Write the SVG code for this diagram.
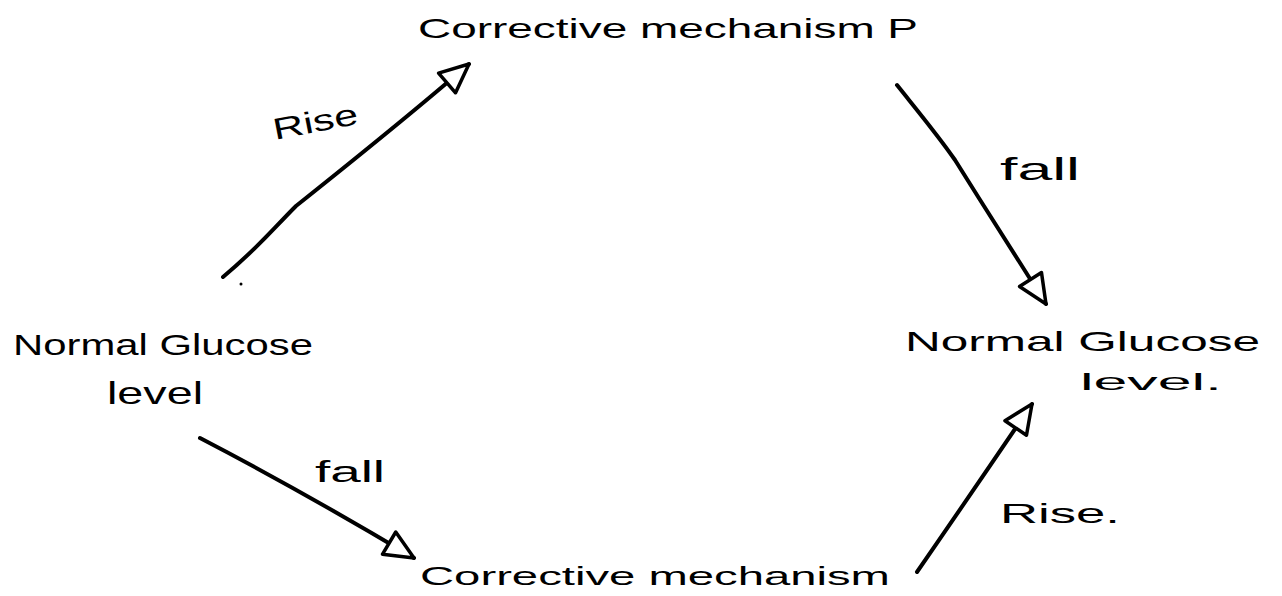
<svg xmlns="http://www.w3.org/2000/svg" width="1282" height="596" viewBox="0 0 1282 596">
  <style>
    .t { font-family: "Liberation Sans", Arial, sans-serif; fill: #000; }
    .conn { fill: none; stroke: #000; stroke-width: 4; stroke-linecap: round; stroke-linejoin: round; marker-end: url(#head); }
  </style>
  <defs>
    <marker id="head" markerUnits="userSpaceOnUse" markerWidth="38" markerHeight="34" viewBox="0 0 38 34" refX="33" refY="17" orient="auto">
      <path d="M4,4 L33,17 L4,30 Z" fill="#fff" stroke="#000" stroke-width="3.5" stroke-linejoin="round"/>
    </marker>
  </defs>
  <rect width="1282" height="596" fill="#fff"/>

  <g id="connectors">
    <path id="c1" class="conn" d="M223,277 C260,246 272,230 296,206 C350,163 410,115 469,64"/>
    <path id="c2" class="conn" d="M897,85 C925,120 940,138 955,160 C985,208 1015,255 1046,304"/>
    <path id="c3" class="conn" d="M200,438 Q300,490 414,558"/>
    <path id="c4" class="conn" d="M917,572 Q975,488 1032,404"/>
  </g>

  <g id="label-rise-top">
    <text class="t" x="275" y="140" font-size="30" textLength="86" lengthAdjust="spacingAndGlyphs" transform="rotate(-11 275 140)">Rise</text>
  </g>
  <g id="label-fall-top">
    <text class="t" x="1000" y="180" font-size="32" textLength="80" lengthAdjust="spacingAndGlyphs">fall</text>
  </g>
  <g id="label-fall-bottom">
    <text class="t" x="315" y="482" font-size="30" textLength="70" lengthAdjust="spacingAndGlyphs">fall</text>
  </g>
  <g id="label-rise-bottom">
    <text class="t" x="1000" y="523" font-size="28" textLength="120" lengthAdjust="spacingAndGlyphs">Rise.</text>
  </g>

  <g id="node-mechanism-p">
    <text class="t" x="418" y="38" font-size="28" textLength="500" lengthAdjust="spacingAndGlyphs">Corrective mechanism P</text>
  </g>
  <g id="node-normal-left">
    <text class="t" x="13" y="355" font-size="30" textLength="300" lengthAdjust="spacingAndGlyphs">Normal Glucose</text>
    <text class="t" x="107" y="404" font-size="32" textLength="96" lengthAdjust="spacingAndGlyphs">level</text>
    <circle cx="241" cy="284" r="1.5" fill="#000"/>
  </g>
  <g id="node-normal-right">
    <text class="t" x="905" y="351" font-size="28" textLength="355" lengthAdjust="spacingAndGlyphs">Normal Glucose</text>
    <text class="t" x="1080" y="390" font-size="24" textLength="142" lengthAdjust="spacingAndGlyphs">level.</text>
  </g>
  <g id="node-mechanism-bottom">
    <text class="t" x="420" y="585" font-size="26" textLength="470" lengthAdjust="spacingAndGlyphs">Corrective mechanism</text>
  </g>
</svg>
